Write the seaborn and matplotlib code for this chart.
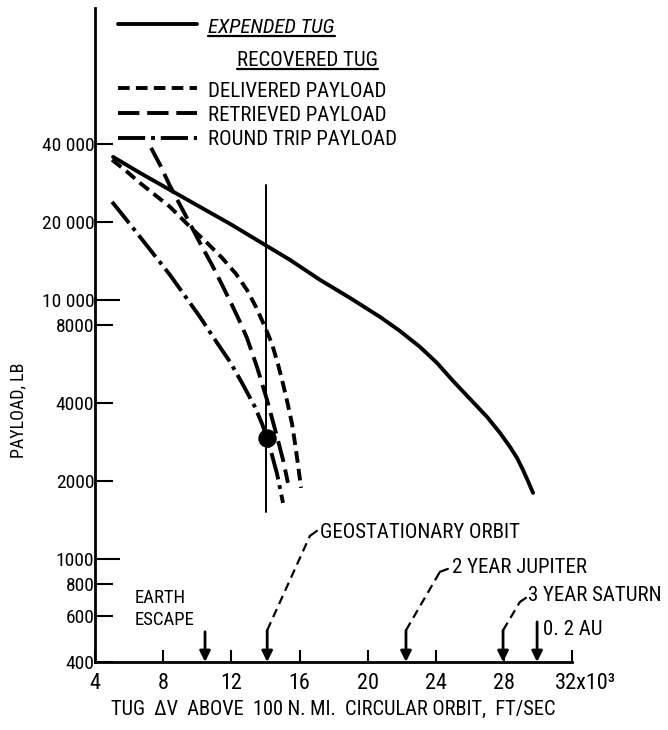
import numpy as np
import pandas as pd
import matplotlib
matplotlib.use("Agg")
import matplotlib.pyplot as plt
import seaborn as sns
from matplotlib import font_manager as fm
from matplotlib.ticker import FixedLocator, FixedFormatter, NullFormatter
from matplotlib.lines import Line2D
import matplotlib.transforms as mtransforms

# ---------------- data ----------------
expended_dv = [5.05, 6.63, 8.39, 10.15, 11.92, 13.97, 15.44, 17.2, 18.96, 20.72, 21.89,
               23.07, 24.07, 25.01, 26.01, 27.01, 27.77, 28.36, 28.77, 29.12, 29.41, 29.71]
expended_pl = [35650, 30930, 26590, 22870, 19660, 16310, 14270, 11950, 10180, 8600, 7590,
               6584, 5711, 4868, 4147, 3534, 3065, 2706, 2455, 2206, 2001, 1798]

delivered_dv = [4.99, 5.81, 6.63, 7.51, 8.39, 9.57, 10.57, 11.45, 12.27, 12.91, 13.44,
                13.97, 14.38, 14.73, 15.03, 15.32, 15.56, 15.73, 15.91, 16.09]
delivered_pl = [34720, 31490, 28290, 25430, 22870, 19140, 16600, 14530, 12600, 10930, 9397,
                7866, 6763, 5660, 4739, 3932, 3320, 2805, 2307, 1880]

retrieved_dv = [7.28, 7.81, 8.39, 8.98, 9.57, 10.15, 10.86, 11.45, 12.03, 12.50, 12.91,
                13.50, 14.09, 14.68, 15.03, 15.32]
retrieved_pl = [38630, 33200, 27550, 23280, 19660, 16600, 13650, 11430, 9565, 8226, 7135,
                5512, 4111, 2958, 2412, 1966]

roundtrip_dv = [4.99, 5.75, 6.63, 7.51, 8.39, 9.27, 10.15, 11.04, 11.92, 12.62, 13.38,
                13.80, 14.09, 14.38, 14.68, 15.03]
roundtrip_pl = [23900, 20730, 17510, 14790, 12490, 10360, 8600, 7008, 5761, 4781, 3863,
                3320, 2932, 2520, 2129, 1645]

series_names = ["EXPENDED TUG", "DELIVERED PAYLOAD", "RETRIEVED PAYLOAD", "ROUND TRIP PAYLOAD"]

geo_line_dv = [14.05, 14.05]
geo_line_pl = [27800, 1520]
point_dv = [14.1]
point_pl = [2930]

landmark_names = ["EARTH\nESCAPE", "GEOSTATIONARY ORBIT", "2 YEAR JUPITER", "3 YEAR SATURN", "0. 2 AU"]
landmark_dv = [10.45, 14.1, 22.25, 27.95, 29.95]

x_ticks = [4, 8, 12, 16, 20, 24, 28, 32]
x_ticklabels = ["4", "8", "12", "16", "20", "24", "28", "32x10\u00b3"]
y_ticks = [400, 600, 800, 1000, 2000, 4000, 8000, 10000, 20000, 40000]
y_ticklabels = ["400", "600", "800", "1000", "2000", "4000", "8000", "10 000", "20 000", "40 000"]
y_minor = [500, 700, 900, 3000, 5000, 6000, 7000, 9000, 30000]

# ---------------- style ----------------
sns.set_theme(style="white")
avail = {f.name for f in fm.fontManager.ttflist}
FONT = next((f for f in ["Liberation Sans Narrow", "Roboto Condensed", "DejaVu Sans"] if f in avail), "DejaVu Sans")
plt.rcParams["font.family"] = [FONT, "DejaVu Sans"]

LW = 2.8
dash_map = {
    "EXPENDED TUG": "",
    "DELIVERED PAYLOAD": (3.0, 1.6),
    "RETRIEVED PAYLOAD": (5.5, 2.0),
    "ROUND TRIP PAYLOAD": (7.0, 1.5, 1.0, 1.5),
}

frames = []
for name, dv, pl in zip(series_names,
                        [expended_dv, delivered_dv, retrieved_dv, roundtrip_dv],
                        [expended_pl, delivered_pl, retrieved_pl, roundtrip_pl]):
    frames.append(pd.DataFrame({"dv": dv, "payload": pl, "series": name}))
df = pd.concat(frames, ignore_index=True)

fig = plt.figure(figsize=(6.68, 7.30), dpi=100)
ax = fig.add_axes([0.1425, 0.0932, 0.7138, 0.8959])

sns.lineplot(data=df, x="dv", y="payload", style="series", dashes=dash_map,
             color="black", lw=LW, sort=False, estimator=None, legend=False, ax=ax)
for ln in ax.get_lines():
    ln.set_solid_capstyle("round")
    ln.set_solid_joinstyle("round")

ax.plot(geo_line_dv, geo_line_pl, color="black", lw=1.4)
ax.scatter(point_dv, point_pl, s=150, color="black", zorder=5)

ax.set_yscale("log")
ax.set_xlim(4, 32)
ax.set_ylim(400, 134000)

for s in ["top", "right"]:
    ax.spines[s].set_visible(False)
for s in ["left", "bottom"]:
    ax.spines[s].set_linewidth(2.0)
    ax.spines[s].set_color("black")

ax.xaxis.set_major_locator(FixedLocator(x_ticks))
ax.xaxis.set_major_formatter(FixedFormatter(x_ticklabels))
ax.xaxis.set_minor_locator(FixedLocator([]))
ax.yaxis.set_major_locator(FixedLocator(y_ticks))
ax.yaxis.set_major_formatter(FixedFormatter(y_ticklabels))
ax.yaxis.set_minor_locator(FixedLocator(y_minor))
ax.yaxis.set_minor_formatter(NullFormatter())

ax.tick_params(axis="x", which="major", direction="in", length=8.6, width=1.5,
               labelsize=16, pad=8, colors="black")
ax.tick_params(axis="y", which="major", direction="in", length=13, width=1.5,
               labelsize=14, pad=0.6, colors="black")
ax.tick_params(axis="y", which="minor", direction="in", length=8, width=1.5)
ax.tick_params(left=True, bottom=True)

for t, v in zip(ax.yaxis.get_major_ticks(), y_ticks):
    if v in (1000, 10000):
        t.tick1line.set_markersize(18)

lab = ax.get_xticklabels()[-1]
lab.set_horizontalalignment("left")
lab.set_transform(lab.get_transform() + mtransforms.ScaledTranslation(-17 / 100, 0, fig.dpi_scale_trans))

ax.set_xlabel("TUG  \u0394V  ABOVE  100 N. MI.  CIRCULAR ORBIT,  FT/SEC", fontsize=14.7, color="black", va="center")
ax.xaxis.set_label_coords(0.50, -0.073)
ax.set_ylabel("PAYLOAD, LB", fontsize=13, color="black", va="center")
ax.yaxis.set_label_coords(-0.162, 0.385)

# ---------------- landmark arrows & notes ----------------
arrow_kw = dict(arrowstyle="-|>", lw=2.0, color="black", mutation_scale=16, shrinkA=0, shrinkB=0)
tops = [523, 530, 530, 530, 571]
for x, top in zip(landmark_dv, tops):
    ax.annotate("", xy=(x, 400), xytext=(x, top), arrowprops=arrow_kw)

leaders = [
    ([(landmark_dv[1], 530), (16.61, 1227)], (17.02, 1283)),
    ([(landmark_dv[2], 530), (24.24, 891)], (24.71, 915)),
    ([(landmark_dv[3], 530), (28.94, 682)], (29.29, 707)),
]
for pts, hook in leaders:
    xs = [p[0] for p in pts]
    ys = [p[1] for p in pts]
    ax.plot(xs, ys, color="black", lw=1.6, linestyle=(0, (4, 2.5)))
    ax.plot([xs[-1], hook[0]], [ys[-1], hook[1]], color="black", lw=1.6)

fs_note = 15
ax.text(6.3, 640, landmark_names[0], fontsize=13.5, ha="left", va="center", linespacing=1.3, color="black")
ax.text(17.2, 1265, landmark_names[1], fontsize=fs_note, ha="left", va="center", color="black")
ax.text(24.95, 923, landmark_names[2], fontsize=fs_note, ha="left", va="center", color="black")
ax.text(29.4, 720, landmark_names[3], fontsize=fs_note, ha="left", va="center", color="black")
ax.text(30.3, 535, landmark_names[4], fontsize=fs_note, ha="left", va="center", color="black")

# ---------------- hand-drawn legend ----------------
lx0, lx1, tx = 0.0478, 0.2135, 0.2366
leg_rows = [
    ("EXPENDED TUG", 0.9755, 0.9694),
    ("DELIVERED PAYLOAD", 0.8777, 0.8716),
    ("RETRIEVED PAYLOAD", 0.8394, 0.8349),
    ("ROUND TRIP PAYLOAD", 0.8012, 0.7982),
]
texts_to_underline = []
for name, ly, ty in leg_rows:
    ln = Line2D([lx0, lx1], [ly, ly], transform=ax.transAxes, color="black", lw=LW)
    if dash_map[name]:
        ln.set_dashes(dash_map[name])
    ax.add_line(ln)
    if name == "EXPENDED TUG":
        t = ax.text(tx, ty, name, transform=ax.transAxes, fontsize=fs_note, style="italic",
                    ha="left", va="center", color="black")
        texts_to_underline.append(t)
    else:
        ax.text(tx, ty, name, transform=ax.transAxes, fontsize=fs_note, ha="left", va="center", color="black")
t2 = ax.text(0.2974, 0.919, "RECOVERED TUG", transform=ax.transAxes, fontsize=fs_note,
             ha="left", va="center", color="black")
texts_to_underline.append(t2)

fig.canvas.draw()
r = fig.canvas.get_renderer()
for t in texts_to_underline:
    bb = t.get_window_extent(renderer=r)
    y = bb.y0 + 1
    fig.add_artist(Line2D([bb.x0, bb.x1], [y, y], transform=mtransforms.IdentityTransform(),
                          color="black", lw=1.6))

fig.savefig("out.png", dpi=100, facecolor="white")
